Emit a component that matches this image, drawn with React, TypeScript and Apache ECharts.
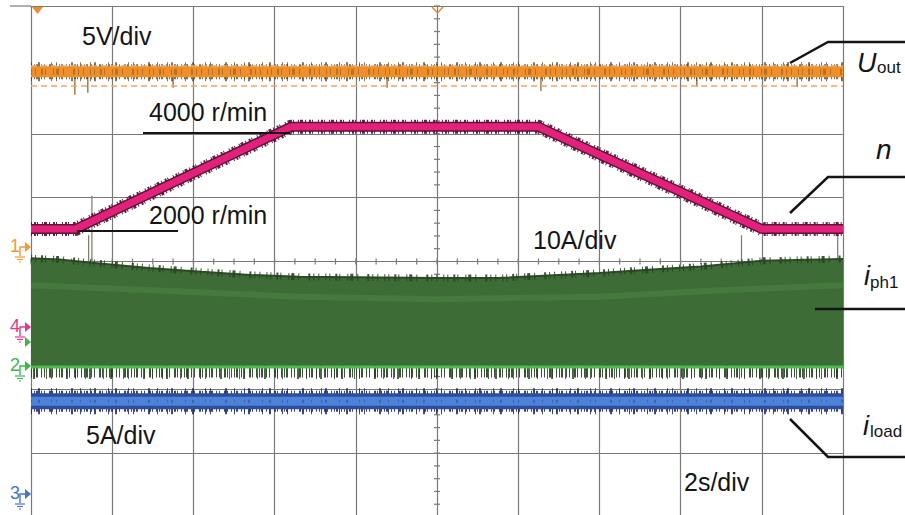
import { useEffect, useRef } from "react";
import * as echarts from "echarts";

// Scope screen: 10 x 8 divisions
const GRID_LEFT = 31;
const GRID_TOP = 6;
const GRID_W = 812;
const GRID_H = 511;
const X_DIVS = 10;
const Y_DIVS = 8;

// Time base: 2 s/div
const SEC_PER_DIV = 2;
const TIME_MAX = X_DIVS * SEC_PER_DIV;

// Channel scales (units per division) and ground marker (divisions above the bottom edge)
const CH_UOUT = { perDiv: 5, ground: 4.23 };
const CH_IPH = { perDiv: 10, ground: 2.35 };
const CH_ILOAD = { perDiv: 5, ground: 0.34 };
const CH_SPEED = { perDiv: 1250, ground: 2.909 };

// Output voltage (V)
const uoutLevel: [number, number][] = [[0, 13.7], [20, 13.7]];
const uoutCursors = [14.2, 12.6];
const uoutGlitches: [number, number, number][] = [
  [1.08, 13.7, 11.9], [1.4, 13.7, 12.05], [3.5, 13.7, 12.45], [8.77, 13.7, 12.45],
  [12.56, 13.7, 12.2], [16.4, 13.7, 12.5], [18.87, 13.7, 12.5],
];

// Motor speed (r/min)
const speedProfile: [number, number][] = [
  [0, 2000], [1.1, 2000], [6.4, 4000], [12.5, 4000], [18.0, 2000], [20, 2000],
];

// Phase current envelope (A)
const phaseEnvelope: [number, number][] = [
  [0, 17.0], [0.7, 16.8], [1.5, 16.3], [2.9, 15.5], [4.2, 14.9], [5.4, 14.4], [6.6, 14.1],
  [10, 13.9], [11.5, 13.9], [14, 14.7], [15.2, 15.2], [16.5, 15.7], [18, 16.6], [20, 16.9],
];
const phaseStripe: [number, number][] = [
  [0, 12.8], [3, 12.0], [6.6, 11.0], [10, 10.6], [14, 11.0], [17, 12.0], [20, 12.8],
];
const phaseFloor: [number, number][] = [[0, 0], [20, 0]];
const phaseUnderNoise: [number, number][] = [[0, -0.8], [20, -0.8]];
const phaseGlitches: [number, number, number][] = [
  [1.42, 16.3, 20.6], [1.5, 16.3, 26.8], [17.5, 16.2, 20.6], [19.87, 16.9, 20.6],
];

// Load current (A)
const loadLevel: [number, number][] = [[0, 7.36], [20, 7.36]];

const GRID_COLOR = "#7a7a7a";
const FONT = "'Liberation Sans', Arial, sans-serif";
const INK = "#151515";

// irregular dash rhythms used to give the traces a noisy edge
const HAIR_A = [1, 3, 1, 5, 2, 2, 1, 7, 1, 2, 3, 4, 1, 9, 2, 3, 1, 4, 1, 6];
const HAIR_B = [1, 2, 2, 1, 1, 4, 1, 1, 3, 2, 1, 3, 2, 1, 1, 5];
const HAIR_C = [1, 6, 2, 11, 1, 4, 1, 14, 2, 7, 1, 9, 1, 3, 2, 12];
const HAIR_D = [1, 2, 1, 1, 2, 3, 1, 2, 1, 4, 2, 1, 1, 3];

const chAxis = (ch: { perDiv: number; ground: number }) => ({
  type: "value" as const,
  show: false,
  min: -ch.ground * ch.perDiv,
  max: (Y_DIVS - ch.ground) * ch.perDiv,
});

const band = (
  data: [number, number][],
  yAxisIndex: number,
  color: string,
  width: number,
  type: any = "solid",
  opacity = 1,
  dashOffset = 0
) => ({
  type: "line",
  data,
  yAxisIndex,
  showSymbol: false,
  symbol: "none",
  silent: true,
  lineStyle: { color, width, type, opacity, dashOffset, cap: "butt", join: "round" },
});

const glitchSeries = (data: [number, number, number][], yAxisIndex: number, color: string) => ({
  type: "custom",
  yAxisIndex,
  silent: true,
  data,
  encode: { x: 0, y: [1, 2] },
  renderItem: (_p: any, api: any) => {
    const a = api.coord([api.value(0), api.value(1)]);
    const b = api.coord([api.value(0), api.value(2)]);
    return {
      type: "line",
      shape: { x1: a[0], y1: a[1], x2: b[0], y2: b[1] },
      style: { stroke: color, lineWidth: 1.2 },
    };
  },
});

const text = (str: string, x: number, y: number, size: number, extra: any = {}) => ({
  type: "text",
  x,
  y,
  z: 20,
  silent: true,
  style: {
    text: str,
    fontSize: size,
    fontFamily: FONT,
    fill: INK,
    verticalAlign: "middle",
    align: "left",
    ...extra,
  },
});

const poly = (points: number[][], stroke: string, width = 2.5) => ({
  type: "polyline",
  z: 20,
  silent: true,
  shape: { points },
  style: { stroke, lineWidth: width, fill: "none" },
});

// Channel ground marker at the left edge of the screen
const marker = (label: string, y: number, color: string) => {
  const els: any[] = [
    poly([[20, y + 9], [20, y], [25, y]], color, 1.4),
    { type: "polygon", z: 20, silent: true, shape: { points: [[25, y - 5], [31, y], [25, y + 5]] }, style: { fill: color } },
    poly([[15, y + 10], [25, y + 10]], color, 1.2),
    poly([[17, y + 12.5], [23, y + 12.5]], color, 1.2),
    poly([[19, y + 15], [21, y + 15]], color, 1.2),
  ];
  if (label) els.push(text(label, 10, y - 1, 18, { fill: color }));
  return els;
};

export default function App() {
  const ref = useRef<HTMLDivElement>(null);

  useEffect(() => {
    if (!ref.current) return;
    const chart = echarts.init(ref.current, undefined, { renderer: "svg" });

    const cx = GRID_LEFT + GRID_W / 2;
    const cy = GRID_TOP + GRID_H / 2;
    const ticks: any[] = [];
    for (let k = 0; k <= X_DIVS * 4; k++) {
      const x = GRID_LEFT + (k * GRID_W) / (X_DIVS * 4);
      ticks.push({ type: "line", silent: true, shape: { x1: x, y1: cy - 3, x2: x, y2: cy + 3 }, style: { stroke: GRID_COLOR, lineWidth: 1.2 } });
    }
    for (let k = 0; k <= Y_DIVS * 5; k++) {
      const y = GRID_TOP + (k * GRID_H) / (Y_DIVS * 5);
      ticks.push({ type: "line", silent: true, shape: { x1: cx - 3, y1: y, x2: cx + 3, y2: y }, style: { stroke: GRID_COLOR, lineWidth: 1.2 } });
    }

    const graphics: any[] = [
      ...ticks,
      { type: "line", silent: true, shape: { x1: 10, y1: GRID_TOP, x2: GRID_LEFT, y2: GRID_TOP }, style: { stroke: GRID_COLOR, lineWidth: 1.2 } },
      // trigger position markers
      { type: "polygon", z: 20, silent: true, shape: { points: [[32, 7], [43, 7], [37.5, 14]] }, style: { fill: "#f08a2c" } },
      poly([[432, 7], [437.5, 13], [443, 7]], "#f08a2c", 1.5),
      ...marker("1", 247, "#f39a35"),
      ...marker("4", 327, "#e6378c"),
      { type: "polygon", z: 20, silent: true, shape: { points: [[25, 337], [31, 342], [25, 347]] }, style: { fill: "#3fb54a" } },
      ...marker("2", 366, "#3fb54a"),
      ...marker("3", 494, "#4a74c8"),
      // scale labels
      text("5V/div", 82, 36, 25),
      text("4000 r/min", 149, 112, 25),
      poly([[143, 133], [290, 133]], INK, 2.2),
      text("2000 r/min", 149, 215, 25),
      poly([[77, 231], [178, 231]], INK, 2.2),
      text("10A/div", 533, 240, 25),
      text("5A/div", 86, 435, 25),
      text("2s/div", 684, 482, 25),
      // trace names
      poly([[790, 63], [828, 42], [905, 42]], INK),
      text("U", 857, 63, 27, { fontStyle: "italic" }),
      text("out", 877, 67, 17),
      poly([[790, 213], [828, 177], [905, 177]], INK),
      text("n", 876, 149, 28, { fontStyle: "italic" }),
      poly([[815, 309], [905, 309]], INK),
      text("i", 864, 276, 27, { fontStyle: "italic" }),
      text("ph1", 870, 282, 17),
      poly([[790, 419], [828, 457], [905, 457]], INK),
      text("i", 863, 426, 27, { fontStyle: "italic" }),
      text("load", 870, 431, 17),
    ];

    chart.setOption({
      animation: false,
      backgroundColor: "#ffffff",
      grid: { left: GRID_LEFT, top: GRID_TOP, width: GRID_W, height: GRID_H, containLabel: false },
      xAxis: {
        type: "value",
        min: 0,
        max: TIME_MAX,
        interval: SEC_PER_DIV,
        axisLine: { show: false },
        axisTick: { show: false },
        axisLabel: { show: false },
        splitLine: { show: true, lineStyle: { color: GRID_COLOR, width: 1.2 } },
      },
      yAxis: [
        {
          type: "value",
          min: 0,
          max: Y_DIVS,
          interval: 1,
          axisLine: { show: false },
          axisTick: { show: false },
          axisLabel: { show: false },
          splitLine: { show: true, lineStyle: { color: GRID_COLOR, width: 1.2 } },
        },
        chAxis(CH_UOUT),
        chAxis(CH_IPH),
        chAxis(CH_ILOAD),
        chAxis(CH_SPEED),
      ],
      series: [
        // phase current: dense switching waveform shown as a filled envelope
        {
          type: "line",
          data: phaseEnvelope,
          yAxisIndex: 2,
          showSymbol: false,
          symbol: "none",
          silent: true,
          lineStyle: { color: "#2c4a26", width: 2 },
          areaStyle: { color: "#3d6c36", opacity: 1 },
        },
        band(phaseEnvelope, 2, "#2a4524", 7, HAIR_A, 0.9),
        band(phaseStripe, 2, "#4f8a46", 6, "solid", 0.45),
        band(phaseUnderNoise, 2, "#26401f", 11, HAIR_D, 0.9),
        band(phaseUnderNoise, 2, "#26401f", 14, HAIR_C, 0.8, 5),
        band(phaseFloor, 2, "#4cbb4c", 3),
        glitchSeries(phaseGlitches, 2, "#6f7f66"),
        // load current
        band(loadLevel, 3, "#1c2a5c", 26, HAIR_C, 0.85),
        band(loadLevel, 3, "#1f3270", 21, HAIR_D, 0.9),
        band(loadLevel, 3, "#2f4d9c", 16),
        band(loadLevel, 3, "#4c82d8", 9),
        band(loadLevel, 3, "#2a4590", 3, HAIR_C, 0.5),
        // output voltage
        {
          ...band(uoutLevel, 1, "#5a3a12", 19, HAIR_C, 0.7),
          markLine: {
            silent: true,
            symbol: "none",
            label: { show: false },
            lineStyle: { color: "#f4a46a", type: [6, 4], width: 1.5 },
            data: uoutCursors.map((v) => ({ yAxis: v })),
          },
        },
        band(uoutLevel, 1, "#5a3a12", 15, HAIR_D, 0.75),
        band(uoutLevel, 1, "#ee8f2a", 11),
        band(uoutLevel, 1, "#6a4416", 6, HAIR_A, 0.4),
        glitchSeries(uoutGlitches, 1, "#8a5a20"),
        // speed
        band(speedProfile, 4, "#4a0f2a", 14, HAIR_B, 0.9),
        band(speedProfile, 4, "#5a1434", 10),
        band(speedProfile, 4, "#e3207c", 7),
      ],
      graphic: { elements: graphics },
    });

    return () => chart.dispose();
  }, []);

  return (
    <div
      ref={ref}
      style={{ position: "fixed", left: 0, top: 0, width: 905, height: 517, background: "#fff" }}
    />
  );
}
